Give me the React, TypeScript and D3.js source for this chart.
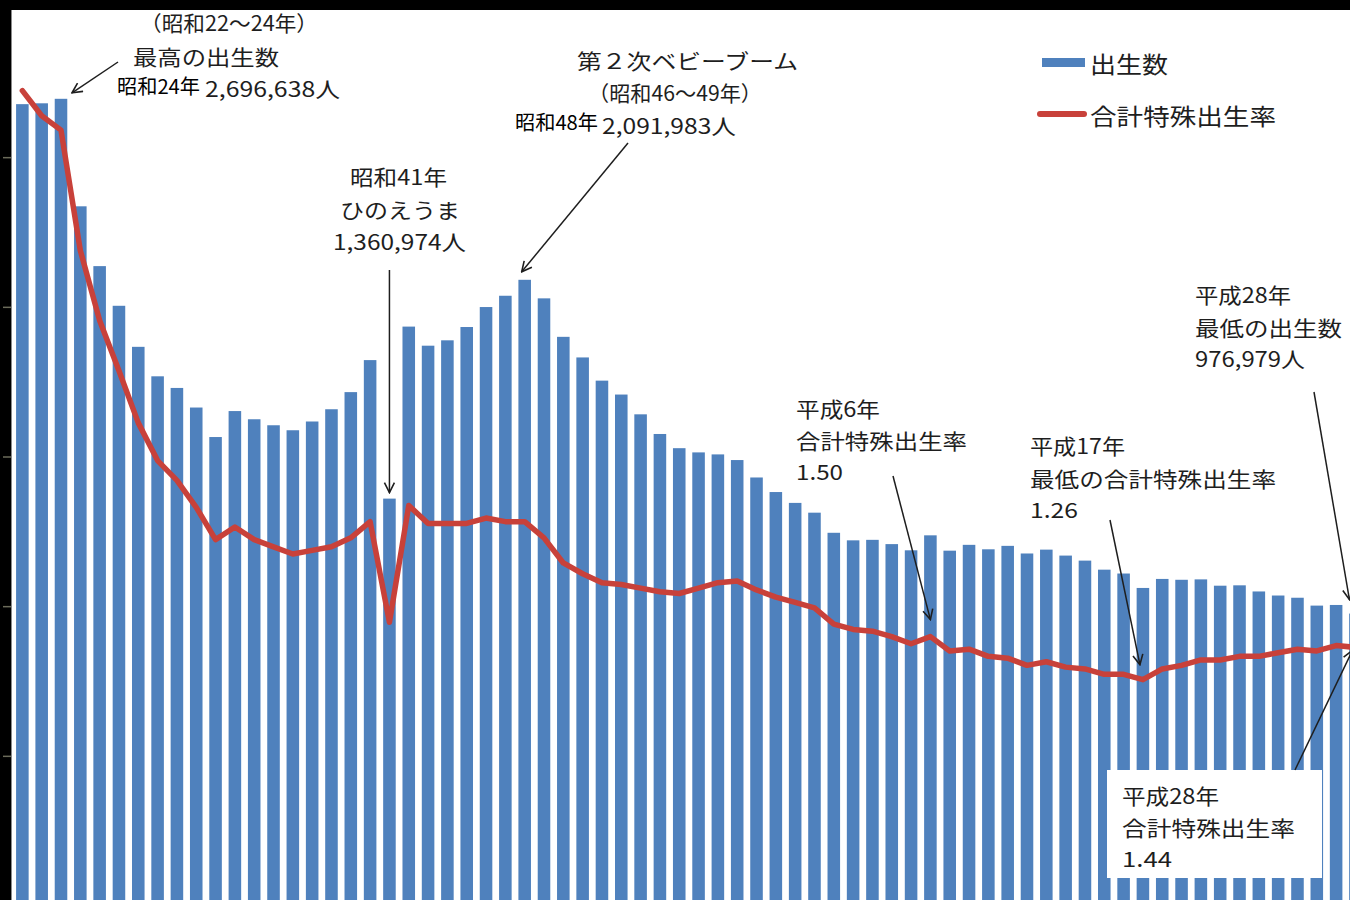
import React from 'react';
import * as d3 from 'd3';

// 昭和22年(1947) 〜 平成28年(2016)
const years = d3.range(1947, 2017);

const births = [
  2678792, 2681624, 2696638, 2337507, 2137689, 2005162, 1868040, 1769580, 1730692, 1665278,
  1566713, 1653469, 1626088, 1606041, 1589372, 1618616, 1659521, 1716761, 1823697, 1360974,
  1935647, 1871839, 1889815, 1934239, 2000973, 2038682, 2091983, 2029989, 1901440, 1832617,
  1755100, 1708643, 1642580, 1576889, 1529455, 1515392, 1508687, 1489780, 1431577, 1382946,
  1346658, 1314006, 1246802, 1221585, 1223245, 1208989, 1188282, 1238328, 1187064, 1206555,
  1191665, 1203147, 1177669, 1190547, 1170662, 1153855, 1123610, 1110721, 1062530, 1092674,
  1089818, 1091156, 1070035, 1071304, 1050806, 1037231, 1029816, 1003539, 1005677, 976979,
];

const tfr = [
  4.54, 4.4, 4.32, 3.65, 3.26, 2.98, 2.69, 2.48, 2.37, 2.22,
  2.04, 2.11, 2.04, 2.0, 1.96, 1.98, 2.0, 2.05, 2.14, 1.58,
  2.23, 2.13, 2.13, 2.13, 2.16, 2.14, 2.14, 2.05, 1.91, 1.85,
  1.8, 1.79, 1.77, 1.75, 1.74, 1.77, 1.8, 1.81, 1.76, 1.72,
  1.69, 1.66, 1.57, 1.54, 1.53, 1.5, 1.46, 1.5, 1.42, 1.43,
  1.39, 1.38, 1.34, 1.36, 1.33, 1.32, 1.29, 1.29, 1.26, 1.32,
  1.34, 1.37, 1.37, 1.39, 1.39, 1.41, 1.43, 1.42, 1.45, 1.44,
];

const birthTicks = [500000, 1000000, 1500000, 2000000, 2500000];

const BAR = '#4F81BD';
const LINE = '#C8413A';
const INK = '#1e1e1e';
const FONT = '"Noto Sans CJK JP", "Noto Sans", sans-serif';

const W = 1350;
const H = 900;
const STEP = 19.32;

const x = d3.scaleBand<number>()
  .domain(years)
  .range([12.7, 12.7 + years.length * STEP])
  .paddingInner(0.35)
  .paddingOuter(0.175);
const cx = (yr: number) => (x(yr) as number) + x.bandwidth() / 2;

const yBirth = d3.scaleLinear().domain([0, 3000000]).range([906, 8]);
const yRate = d3.scaleLinear().domain([0, 5]).range([906, 8]);

const rateLine = d3.line<number>()
  .x((_, i) => cx(years[i]))
  .y((d) => yRate(d));

const idx = (yr: number) => years.indexOf(yr);

// text lines: [text, left x, centre y, width, size]
type Label = [string, number, number, number, number?];
const labels: Label[] = [
  ['（昭和22～24年）', 140, 22, 178],
  ['最高の出生数', 133, 56, 146],
  ['2,696,638人', 205, 88, 135],
  ['第２次ベビーブーム', 577, 60, 221],
  ['（昭和46～49年）', 588, 92, 174],
  ['2,091,983人', 602, 125, 134],
  ['昭和41年', 350, 176, 97],
  ['ひのえうま', 340, 209, 120],
  ['1,360,974人', 333, 241, 133],
  ['平成6年', 796, 408, 84],
  ['合計特殊出生率', 796, 440, 171],
  ['1.50', 796, 471, 47],
  ['平成17年', 1030, 445, 95],
  ['最低の合計特殊出生率', 1030, 478, 246],
  ['1.26', 1030, 509, 48],
  ['平成28年', 1195, 294, 96],
  ['最低の出生数', 1195, 327, 147],
  ['976,979人', 1195, 358, 110],
  ['平成28年', 1122, 795, 97],
  ['合計特殊出生率', 1122, 827, 173],
  ['1.44', 1122, 858, 50],
];

// plain labels (different font in the original)
const plainLabels: Label[] = [
  ['昭和24年', 117, 85, 83, 20],
  ['昭和48年', 515, 121, 83, 20],
];

export default function App() {
  const i49 = idx(1949);
  const i66 = idx(1966);
  const i73 = idx(1973);
  const i94 = idx(1994);
  const i05 = idx(2005);
  const i16 = idx(2016);

  const arrows: [number, number, number, number][] = [
    [118, 62, cx(1949) + 11, yBirth(births[i49]) - 6],
    [628, 143, cx(1973) - 3, yBirth(births[i73]) - 8],
    [cx(1966), 270, cx(1966), yBirth(births[i66]) - 6],
    [893, 476, cx(1994), yRate(tfr[i94]) - 17],
    [1110, 520, cx(2005) - 3, yRate(tfr[i05]) - 15],
    [1314, 392, cx(2016) - 6, yBirth(births[i16]) - 14],
    [1295, 770, cx(2016) - 3, yRate(tfr[i16]) + 3],
  ];

  return (
    <svg
      width={W}
      height={H}
      viewBox={`0 0 ${W} ${H}`}
      style={{ position: 'absolute', left: 0, top: 0, background: '#fff' }}
    >
      <defs>
        <marker id="head" viewBox="0 0 12 12" refX="11" refY="6" markerWidth="12" markerHeight="12"
          markerUnits="userSpaceOnUse" orient="auto">
          <path d="M1,1 L11,6 L1,11" fill="none" stroke={INK} strokeWidth={1.6} />
        </marker>
      </defs>

      <rect x={0} y={0} width={W} height={H} fill="#fff" />

      {/* bars */}
      <g>
        {years.map((yr, i) => (
          <rect
            key={yr}
            x={x(yr)}
            y={yBirth(births[i])}
            width={x.bandwidth()}
            height={yBirth(0) - yBirth(births[i])}
            fill={BAR}
          />
        ))}
      </g>

      {/* fertility rate */}
      <path d={rateLine(tfr) ?? ''} fill="none" stroke={LINE} strokeWidth={5.5}
        strokeLinejoin="round" strokeLinecap="round" />

      {/* frame outside the crop */}
      <rect x={0} y={0} width={W} height={10} fill="#000" />
      <rect x={0} y={0} width={11} height={H} fill="#000" />
      <line x1={11.5} x2={11.5} y1={10} y2={H} stroke="#8a8a8a" strokeWidth={1} />
      {birthTicks.map((t) => (
        <line key={t} x1={3} x2={11} y1={yBirth(t)} y2={yBirth(t)} stroke="#6b6b5a" strokeWidth={1.5} />
      ))}

      {/* lower right box */}
      <rect x={1107} y={770} width={215} height={108} fill="#fff" />

      {/* arrows */}
      {arrows.map(([x1, y1, x2, y2], k) => (
        <line key={k} x1={x1} y1={y1} x2={x2} y2={y2} stroke={INK} strokeWidth={1.5} markerEnd="url(#head)" />
      ))}

      {/* annotations */}
      <g fontFamily={FONT} fill={INK}>
        {labels.map(([t, lx, ly, w, s], k) => (
          <text key={k} x={lx} y={ly} fontSize={s ?? 21} dominantBaseline="central"
            textLength={w} lengthAdjust="spacingAndGlyphs">{t}</text>
        ))}
        {plainLabels.map(([t, lx, ly, w, s], k) => (
          <text key={'p' + k} x={lx} y={ly} fontSize={s ?? 20} dominantBaseline="central" fill="#000"
            textLength={w} lengthAdjust="spacingAndGlyphs">{t}</text>
        ))}
      </g>

      {/* legend */}
      <g fontFamily={FONT} fill={INK}>
        <rect x={1042} y={58} width={43} height={9} fill={BAR} />
        <text x={1090} y={63} fontSize={23} dominantBaseline="central" textLength={78}
          lengthAdjust="spacingAndGlyphs">出生数</text>
        <line x1={1040} x2={1084} y1={114} y2={114} stroke={LINE} strokeWidth={6} strokeLinecap="round" />
        <text x={1090} y={115} fontSize={23} dominantBaseline="central" textLength={186}
          lengthAdjust="spacingAndGlyphs">合計特殊出生率</text>
      </g>
    </svg>
  );
}
